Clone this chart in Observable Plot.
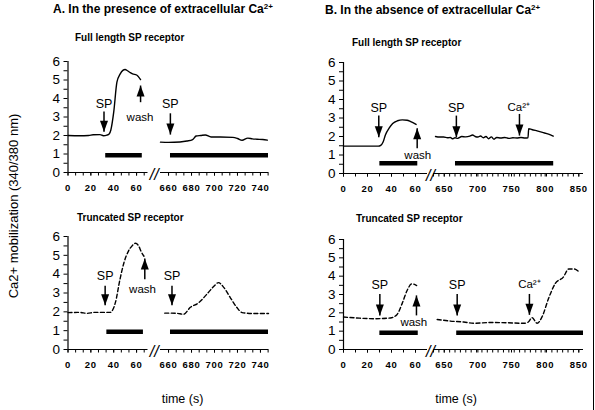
<!DOCTYPE html>
<html><head><meta charset="utf-8">
<script src="https://cdn.jsdelivr.net/npm/d3@7"></script>
<script src="https://cdn.jsdelivr.net/npm/@observablehq/plot@0.6"></script>
<style>
body{margin:0;background:#fff;}
#fig{position:relative;width:595px;height:410px;background:#fff;font-family:"Liberation Sans",Arial,sans-serif;color:#000;overflow:hidden}
.t{position:absolute;white-space:nowrap;line-height:1}
.panel{position:absolute}
.panel svg{overflow:visible}
g[aria-label="x-axis tick label"] text{letter-spacing:0.7px}
sup{font-size:8px;vertical-align:4px;line-height:0}
</style></head><body><div id="fig"></div>
<script>
// ---- curves: [time (s), Ca2+ ratio] ----
const fullPresLeft = [[0,2.0],[10,1.99],[18,2.0],[22,2.04],[28,2.05],[31,1.99],[34,2.02],[36,2.08],[37.5,2.3],[40,3.26],[42.8,4.88],[45.7,5.33],[48,5.52],[50,5.57],[52,5.5],[54,5.42],[56.5,5.33],[60,5.27],[63.5,5.02]];
const fullPresRight = [[652.5,1.64],[660,1.63],[670,1.65],[676,1.7],[681,1.78],[684,1.97],[688,2.0],[692,2.03],[697,1.92],[705,1.92],[716,1.9],[720,1.84],[724,1.74],[729,1.86],[733,1.82],[737,1.8],[742,1.78],[746,1.75]];
const fullAbsLeft = [[0,1.48],[10,1.48],[20,1.48],[29,1.48],[31,1.52],[33,1.7],[35,2.1],[38,2.45],[41,2.7],[45,2.85],[49,2.9],[53,2.88],[56,2.8],[60.5,2.65]];
const fullAbsRight = [[637,2.0],[643,1.97],[649,1.97],[655,1.93],[659,1.95],[662,1.88],[666,1.93],[670,1.9],[676,2.0],[682,1.98],[688,2.02],[692,2.08],[696,2.0],[700,1.97],[704,2.03],[708,1.93],[712,2.0],[716,1.88],[720,1.98],[724,1.85],[728,1.95],[734,1.92],[740,1.95],[746,1.9],[752,1.93],[758,1.92],[764,1.95],[770,1.92],[774.5,1.93],[775.5,2.42],[780,2.38],[788,2.3],[796,2.22],[805,2.13],[812,2.02]];
const truncPresLeft = [[0,1.96],[10,1.97],[17,1.92],[23,1.97],[30,1.97],[37,1.97],[39.5,2.15],[41.5,2.5],[45.5,3.73],[49,4.62],[53,5.24],[56,5.5],[59,5.64],[62,5.48],[64,5.2],[66.5,4.95]];
const truncPresRight = [[656.7,1.93],[662,1.93],[667.5,1.92],[673,1.87],[679,2.24],[686,2.47],[693.4,2.94],[699,3.33],[703.5,3.55],[708,3.3],[713.7,2.76],[719.5,2.23],[724,1.96],[734,1.91],[747,1.91]];
const truncAbsLeft = [[0,1.77],[11,1.72],[25,1.68],[39,1.72],[44.5,1.9],[49,2.53],[53,3.22],[57,3.58],[61,3.49]];
const truncAbsRight = [[639.5,1.64],[659,1.55],[679,1.5],[694,1.43],[719,1.47],[743,1.46],[768,1.43],[775,1.5],[780.5,1.74],[788,1.43],[795.5,1.79],[805,2.78],[815,3.6],[827,3.95],[835,4.39],[843,4.39],[850,4.25]];

// ---- treatment bars: [start, end] and their level ----
const barsFullPres = [[33,65],[661.7,747]];   const barLevelFullPres = 0.93;
const barsFullAbs = [[30.3,61.9],[666.7,812.7]]; const barLevelFullAbs = 0.56;
const barsTruncPres = [[34,66],[661.7,747]];  const barLevelTruncPres = 0.94;
const barsTruncAbs = [[30.3,62.3],[668.5,857]]; const barLevelTruncAbs = 0.91;

// ---- arrows: label, arrow time, label time, label level, tail level, tip level ----
const arrowsFullPres = [
  {text:"SP", t:31.5, lt:31.5, lv:3.7, from:3.3, to:2.2},
  {text:"wash", t:63.5, lt:63, lv:3.0, from:3.8, to:4.7},
  {text:"SP", t:661.6, lt:661.6, lv:3.7, from:3.2, to:2.05}
];
const arrowsFullAbs = [
  {text:"SP", t:29.4, lt:29.4, lv:3.53, from:3.13, to:1.96},
  {text:"wash", t:61.4, lt:61.9, lv:1.01, from:1.37, to:2.45},
  {text:"SP", t:668, lt:668, lv:3.53, from:3.13, to:1.96},
  {text:"Ca²⁺", t:761.8, lt:760.8, lv:3.58, from:3.22, to:2.05}
];
const arrowsTruncPres = [
  {text:"SP", t:32.5, lt:32.5, lv:3.9, from:3.38, to:2.35},
  {text:"wash", t:67.2, lt:65.2, lv:3.17, from:3.73, to:4.83},
  {text:"SP", t:663, lt:663, lv:3.9, from:3.38, to:2.35}
];
const arrowsTruncAbs = [
  {text:"SP", t:30.3, lt:30.3, lv:3.5, from:3.03, to:1.86},
  {text:"wash", t:60.8, lt:58.6, lv:1.5, from:1.86, to:2.95},
  {text:"SP", t:669.2, lt:669.2, lv:3.5, from:3.03, to:1.86},
  {text:"Ca²⁺", t:776.6, lt:776.6, lv:3.58, from:3.03, to:1.89}
];

// ---- axes ----
const xDomainA = [0, 70, 653, 747];
const xDomainB = [0, 70, 634, 857];
const majorA = [0,20,40,60,660,680,700,720,740];
const majorB = [0,20,40,60,650,700,750,800,850];
const minorA = d3.range(0, 70, 20/3).concat(d3.range(660, 748, 20/3));
const minorB = d3.range(0, 70, 10).concat(d3.range(634, 858, 8));
const yMajor = [0,1,2,3,4,5,6];
const yMinor = [0.5,1.5,2.5,3.5,4.5,5.5];

const FONT = '"Liberation Sans", Arial, sans-serif';
const headDown = {draw(c){ c.moveTo(-4,-11); c.lineTo(4,-11); c.lineTo(0,0); c.closePath(); }};
const headUp = {draw(c){ c.moveTo(-4,11); c.lineTo(4,11); c.lineTo(0,0); c.closePath(); }};

function panel(cfg) {
  const {xDomain, xRange} = cfg;
  const segs = [[xDomain[0], xDomain[1]], [xDomain[2], xDomain[3]]];
  const brk = (xDomain[1] + xDomain[2]) / 2;
  const down = cfg.arrows.filter(a => a.to < a.from);
  const up = cfg.arrows.filter(a => a.to > a.from);
  const lineOpts = {x: d => d[0], y: d => d[1], curve: "monotone-x", strokeWidth: 1.4};
  if (cfg.dashed) lineOpts.strokeDasharray = "4,2.5";
  const plot = Plot.plot({
    width: cfg.width, height: cfg.height,
    marginTop: cfg.mTop, marginBottom: cfg.mBottom,
    marginLeft: xRange[0], marginRight: cfg.width - xRange[3],
    x: {type: "linear", domain: xDomain, range: xRange},
    y: {type: "linear", domain: [0, 6]},
    style: {fontFamily: FONT, background: "none", overflow: "visible", color: "black"},
    marks: [
      Plot.ruleX([xDomain[0]], {x: d => d, y1: () => 0, y2: () => 6, strokeWidth: 1.2}),
      Plot.ruleY(segs, {y: () => 0, x1: d => d[0], x2: d => d[1], strokeWidth: 1.2}),
      Plot.axisY({ticks: yMinor, text: null, tickFormat: () => "", tickSize: 4, label: null}),
      Plot.axisY({ticks: yMajor, tickSize: 4, tickPadding: 4, fontSize: 13.5, label: null, tickFormat: d => String(d)}),
      Plot.axisX({ticks: cfg.minor, text: null, tickFormat: () => "", tickSize: 3.5, label: null}),
      Plot.axisX({ticks: cfg.major, tickSize: 3.5, tickPadding: 8, fontSize: 9.5, fontWeight: "bold", label: null, tickFormat: d => String(d)}),
      Plot.text([brk], {x: d => d, y: () => 0, text: () => "//", fontSize: 16, fontStyle: "italic", dy: 2}),
      ...cfg.curves.map(c => Plot.line(c, lineOpts)),
      Plot.ruleY(cfg.bars, {y: () => cfg.barLevel, x1: d => d[0], x2: d => d[1], strokeWidth: 4.5}),
      Plot.link(cfg.arrows, {x1: "t", x2: "t", y1: "from", y2: "to", strokeWidth: 1.5}),
      Plot.dot(down, {x: "t", y: "to", symbol: headDown, fill: "black", stroke: "none"}),
      Plot.dot(up, {x: "t", y: "to", symbol: headUp, fill: "black", stroke: "none"}),
      Plot.text(cfg.arrows, {x: "lt", y: "lv", text: "text", fontSize: d => d.text === "SP" ? 12.5 : 11.5})
    ]
  });
  const wrap = document.createElement("div");
  wrap.className = "panel";
  wrap.style.left = cfg.left + "px";
  wrap.style.top = cfg.top + "px";
  wrap.appendChild(plot);
  return wrap;
}

const fig = document.getElementById("fig");
const rangeA = [67.5, 147.5, 160, 268];
const rangeB = [46, 130, 136, 286];

fig.appendChild(panel({left: 0, top: 50, width: 297, height: 150, mTop: 11, mBottom: 28,
  xDomain: xDomainA, xRange: rangeA, major: majorA, minor: minorA,
  curves: [fullPresLeft, fullPresRight], dashed: false, bars: barsFullPres, barLevel: barLevelFullPres, arrows: arrowsFullPres}));
fig.appendChild(panel({left: 0, top: 225, width: 297, height: 150, mTop: 11, mBottom: 26,
  xDomain: xDomainA, xRange: rangeA, major: majorA, minor: minorA,
  curves: [truncPresLeft, truncPresRight], dashed: true, bars: barsTruncPres, barLevel: barLevelTruncPres, arrows: arrowsTruncPres}));
fig.appendChild(panel({left: 297, top: 50, width: 298, height: 150, mTop: 12, mBottom: 27,
  xDomain: xDomainB, xRange: rangeB, major: majorB, minor: minorB,
  curves: [fullAbsLeft, fullAbsRight], dashed: false, bars: barsFullAbs, barLevel: barLevelFullAbs, arrows: arrowsFullAbs}));
fig.appendChild(panel({left: 297, top: 225, width: 298, height: 150, mTop: 14, mBottom: 26,
  xDomain: xDomainB, xRange: rangeB, major: majorB, minor: minorB,
  curves: [truncAbsLeft, truncAbsRight], dashed: true, bars: barsTruncAbs, barLevel: barLevelTruncAbs, arrows: arrowsTruncAbs}));

function addText(html, css) {
  const d = document.createElement("div");
  d.className = "t";
  d.innerHTML = html;
  Object.assign(d.style, css);
  fig.appendChild(d);
  return d;
}
addText('A. In the presence of extracellular Ca<sup>2+</sup>', {left: "53px", top: "2.5px", fontSize: "12px", fontWeight: "bold"});
addText('B. In the absence of extracellular Ca<sup>2+</sup>', {left: "325px", top: "3.5px", fontSize: "12px", fontWeight: "bold"});
addText('Full length SP receptor', {left: "75px", top: "33px", fontSize: "10px", fontWeight: "bold"});
addText('Full length SP receptor', {left: "352px", top: "38px", fontSize: "10px", fontWeight: "bold"});
addText('Truncated SP receptor', {left: "77px", top: "213px", fontSize: "10px", fontWeight: "bold"});
addText('Truncated SP receptor', {left: "356px", top: "214px", fontSize: "10px", fontWeight: "bold"});
addText('time (s)', {left: "182.5px", top: "393px", fontSize: "12.5px", transform: "translateX(-50%)"});
addText('time (s)', {left: "456px", top: "393px", fontSize: "12.5px", transform: "translateX(-50%)"});
addText('Ca2+ mobilization (340/380 nm)', {left: "13px", top: "206px", fontSize: "13px", transform: "translate(-50%,-50%) rotate(-90deg)"});
const border = document.createElement("div");
Object.assign(border.style, {position: "absolute", left: "592.5px", top: "0px", width: "1.5px", height: "410px", background: "#000"});
fig.appendChild(border);
</script></body></html>
